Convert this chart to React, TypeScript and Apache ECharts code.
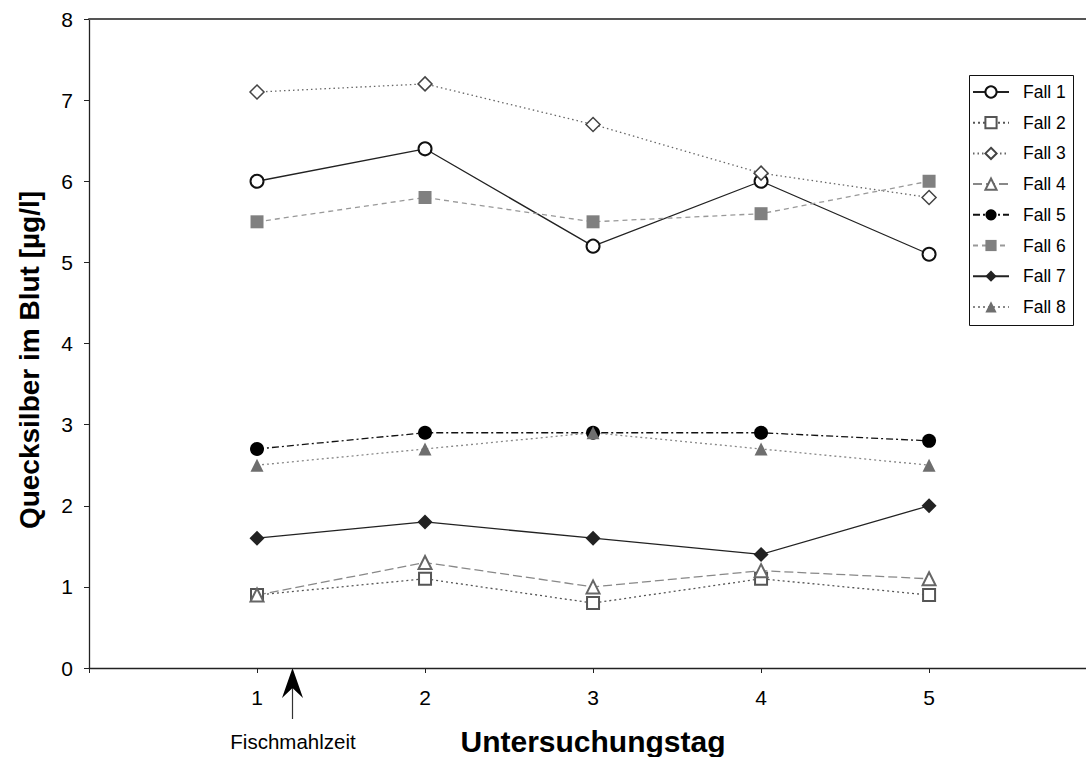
import React, { useEffect, useRef } from "react";
import * as echarts from "echarts";

const days = [1, 2, 3, 4, 5];
const fall1 = [6.0, 6.4, 5.2, 6.0, 5.1];
const fall2 = [0.9, 1.1, 0.8, 1.1, 0.9];
const fall3 = [7.1, 7.2, 6.7, 6.1, 5.8];
const fall4 = [0.9, 1.3, 1.0, 1.2, 1.1];
const fall5 = [2.7, 2.9, 2.9, 2.9, 2.8];
const fall6 = [5.5, 5.8, 5.5, 5.6, 6.0];
const fall7 = [1.6, 1.8, 1.6, 1.4, 2.0];
const fall8 = [2.5, 2.7, 2.9, 2.7, 2.5];
const seriesNames = ["Fall 1", "Fall 2", "Fall 3", "Fall 4", "Fall 5", "Fall 6", "Fall 7", "Fall 8"];
const yTicks = [0, 1, 2, 3, 4, 5, 6, 7, 8];

const FONT = "Liberation Sans, Arial, sans-serif";

export default function App() {
  const ref = useRef<HTMLDivElement>(null);
  useEffect(() => {
    if (!ref.current) return;
    const chart = echarts.init(ref.current, null, { renderer: "svg" });
    const values = [fall1, fall2, fall3, fall4, fall5, fall6, fall7, fall8];
    const styles = [
      { symbol: "circle", size: 13, color: "#fff", border: "#111", line: "#222", type: "solid" as any, bw: 2 },
      { symbol: "rect", size: 12, color: "#fff", border: "#555", line: "#555", type: [2, 3] as any, bw: 2 },
      { symbol: "diamond", size: 14, color: "#fff", border: "#444", line: "#666", type: [1.5, 3] as any, bw: 1.5 },
      { symbol: "triangle", size: 13, color: "#fff", border: "#666", line: "#888", type: [9, 4] as any, bw: 2 },
      { symbol: "circle", size: 14, color: "#000", border: "#000", line: "#111", type: [7, 3, 2, 3] as any, bw: 0 },
      { symbol: "rect", size: 13, color: "#808080", border: "#808080", line: "#999", type: [5, 4] as any, bw: 0 },
      { symbol: "diamond", size: 15, color: "#222", border: "#222", line: "#222", type: "solid" as any, bw: 0 },
      { symbol: "triangle", size: 13, color: "#6e6e6e", border: "#6e6e6e", line: "#888", type: [2, 3] as any, bw: 0 },
    ];
    const series = seriesNames.map((name, i) => ({
      name,
      type: "line",
      data: days.map((d, j) => [d, values[i][j]]),
      symbol: styles[i].symbol,
      symbolSize: styles[i].size,
      showAllSymbol: true,
      lineStyle: { color: styles[i].line, width: 1.3, type: styles[i].type },
      itemStyle: { color: styles[i].color, borderColor: styles[i].border, borderWidth: styles[i].bw },
      z: 2,
    }));
    chart.setOption({
      animation: false,
      backgroundColor: "#fff",
      grid: { left: 89, top: 19, right: 0, bottom: 89, containLabel: false },
      legend: {
        orient: "vertical",
        left: 972,
        top: 83,
        padding: 0,
        itemWidth: 36,
        itemHeight: 14,
        itemGap: 12.7,
        data: seriesNames,
        textStyle: { fontFamily: FONT, fontSize: 17.5, color: "#000", padding: [0, 0, 0, 9] },
      },
      xAxis: [
        {
          type: "value",
          min: 0,
          max: 5.934,
          interval: 1,
          axisLine: { show: true, lineStyle: { color: "#222", width: 1.3 } },
          axisTick: { show: true, length: 5, lineStyle: { color: "#222" } },
          splitLine: { show: false },
          axisLabel: {
            fontFamily: FONT,
            fontSize: 21,
            color: "#000",
            margin: 19,
            showMaxLabel: false,
            formatter: (v: number) => (v >= 1 && v <= 5 && Number.isInteger(v) ? String(v) : ""),
          },
        },
        {
          type: "value",
          position: "top",
          min: 0,
          max: 5.934,
          axisLine: { show: true, lineStyle: { color: "#555", width: 2 } },
          axisTick: { show: false },
          axisLabel: { show: false },
          splitLine: { show: false },
        },
      ],
      yAxis: {
        type: "value",
        min: yTicks[0],
        max: yTicks[yTicks.length - 1],
        interval: 1,
        axisLine: { show: true, lineStyle: { color: "#222", width: 1.3 } },
        axisTick: { show: true, length: 5, lineStyle: { color: "#222" } },
        splitLine: { show: false },
        axisLabel: { fontFamily: FONT, fontSize: 21, color: "#000", margin: 16 },
      },
      graphic: [
        {
          type: "rect",
          shape: { x: 969.5, y: 75.5, width: 104, height: 250 },
          style: { fill: "none", stroke: "#111", lineWidth: 1 },
          z: 1,
        },
        {
          type: "text",
          x: 29,
          y: 360,
          rotation: Math.PI / 2,
          style: {
            text: "Quecksilber im Blut [µg/l]",
            font: `bold 28px ${FONT}`,
            fill: "#000",
            align: "center",
            verticalAlign: "middle",
          },
        },
        {
          type: "text",
          x: 593,
          y: 741,
          style: {
            text: "Untersuchungstag",
            font: `bold 30px ${FONT}`,
            fill: "#000",
            align: "center",
            verticalAlign: "middle",
          },
        },
        {
          type: "text",
          x: 293,
          y: 741,
          style: {
            text: "Fischmahlzeit",
            font: `20.5px ${FONT}`,
            fill: "#000",
            align: "center",
            verticalAlign: "middle",
          },
        },
        {
          type: "line",
          shape: { x1: 292.5, y1: 688, x2: 292.5, y2: 719 },
          style: { stroke: "#333", lineWidth: 1.2 },
        },
        {
          type: "polygon",
          shape: { points: [[292.5, 668], [282, 698], [292.5, 688], [303, 698]] },
          style: { fill: "#000" },
        },
      ],
      series,
    });
    return () => chart.dispose();
  }, []);
  return (
    <div
      ref={ref}
      style={{ position: "fixed", left: 0, top: 0, width: 1086, height: 757, background: "#fff" }}
    />
  );
}
